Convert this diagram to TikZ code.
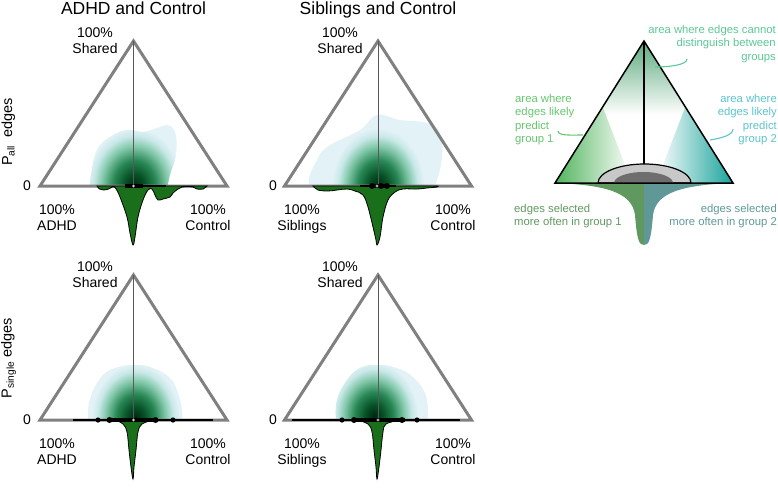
\documentclass[tikz,border=0pt]{standalone}
\usepackage{fontspec}
\setmainfont{Liberation Sans}
\usepackage{tikz}
\usetikzlibrary{calc}

%colours
\definecolor{ternGray}{RGB}{128,128,128}
\definecolor{vioGreen}{RGB}{26,112,26}
\definecolor{blobCyan}{RGB}{227,242,246}
\definecolor{kdeA}{RGB}{0,38,14}
\definecolor{kdeB}{RGB}{6,80,38}
\definecolor{kdeC}{RGB}{40,135,85}
\definecolor{kdeD}{RGB}{130,200,170}
\definecolor{kdeE}{RGB}{200,232,232}
\definecolor{legTop}{RGB}{92,170,125}
\definecolor{legOne}{RGB}{80,180,92}
\definecolor{legTwo}{RGB}{24,163,154}
\definecolor{vioOne}{RGB}{96,153,96}
\definecolor{vioTwo}{RGB}{96,152,152}
\definecolor{noteMid}{RGB}{92,200,150}
\definecolor{noteOne}{RGB}{100,198,110}
\definecolor{noteTwo}{RGB}{92,196,206}
\definecolor{grayOut}{RGB}{200,200,200}
\definecolor{grayIn}{RGB}{110,110,110}

\pgfdeclareradialshading{kde}{\pgfpoint{0bp}{0bp}}{color(0bp)=(kdeA); color(5bp)=(kdeB); color(11bp)=(kdeC); color(17bp)=(kdeD); color(21.5bp)=(kdeE); color(25bp)=(blobCyan); color(50bp)=(blobCyan)}

\tikzset{
	tern/.style={draw=ternGray, line width=3pt},
	midline/.style={draw=black!65, line width=1pt},
	violin/.style={fill=vioGreen, draw=black, line width=0.8pt},
	whisker/.style={draw=black, line width=1.6pt},
	boxbar/.style={draw=black, line width=4.5pt},
	knob/.style={fill=black},
	median/.style={fill=white, draw=black!60, line width=0.4pt},
	title/.style={font=\fontsize{17.5}{20}\selectfont, inner sep=0pt},
	lbl/.style={font=\fontsize{14}{16}\selectfont, align=center, inner sep=0pt},
	rowlbl/.style={font=\fontsize{14.5}{16}\selectfont, rotate=90, inner sep=0pt},
	note/.style={font=\fontsize{11.3}{13.4}\selectfont, inner sep=0pt},
	hook/.style={line width=1.1pt}
}

%ternary frame of one panel
\newcommand{\ternframe}{%
	\draw[tern] (-93.5,0) -- (0,-145) -- (93.5,0) -- cycle;
	\draw[midline] (0,-145) -- (0,0);}

\begin{document}
\begin{tikzpicture}[x=1pt, y=-1pt]
	\useasboundingbox (0,0) rectangle (778,496);
	
	%titles
	\node[title, anchor=base] (titleA) at (133.5,14) {ADHD and Control};
	\node[title, anchor=base] (titleB) at (378,14) {Siblings and Control};
	
	%row labels
	\node[rowlbl] (rowAll) at (8.5,132) {P\textsubscript{all}\ \ edges};
	\node[rowlbl] (rowSingle) at (8.5,358) {P\textsubscript{single} edges};
	
	%top left panel
	\begin{scope}[shift={(133.5,186)}]
		\begin{scope}
			\clip plot[smooth, tension=0.7] coordinates {(-43.5,0) (-43,-8) (-36.5,-36) (-23.5,-49) (-6.5,-56) (9.5,-54) (23.5,-58) (33.5,-61) (40,-57) (43,-46) (42,-29) (37,-13) (34,0)} -- cycle;
			\fill[blobCyan] (-100,-100) rectangle (100,0);
			\shade[shading=kde] (1,0) ellipse [x radius=48, y radius=58];
		\end{scope}
		\ternframe
		\filldraw[violin] plot[smooth, tension=0.6] coordinates {(-36.5,0) (-34,3) (-30,4) (-25,3) (-21,1) (-18,2) (-13.5,11) (-6.5,31) (-3.5,47) (-0.5,59) (1.5,51) (4.5,31) (9.5,14) (14.5,4) (18.5,3) (21.5,9) (24.5,14) (29.5,13) (36.5,11) (39.5,7) (44.5,3) (48.5,1) (59.5,1) (63.5,3) (69.5,3) (73.5,0)} -- cycle;
		\draw[whisker] (-8,0) -- (32,0);
		\draw[boxbar] (-8.5,0) -- (9.5,0);
		\filldraw[median] (0,0) circle [radius=1.3];
	\end{scope}
	
	%top middle panel
	\begin{scope}[shift={(378,186)}]
		\begin{scope}
			\clip plot[smooth, tension=0.7] coordinates {(-68,0) (-69,-8) (-62,-24) (-51,-39) (-18,-56) (-1,-71) (22,-66) (49,-63) (62,-53) (64,-29) (59,-6) (55,0)} -- cycle;
			\fill[blobCyan] (-100,-100) rectangle (100,0);
			\shade[shading=kde] (0,0) ellipse [x radius=46, y radius=58];
		\end{scope}
		\ternframe
		\filldraw[violin] plot[smooth, tension=0.6] coordinates {(-65,0) (-60,4) (-50,5) (-41,4) (-31,3) (-23,5) (-15,9) (-10,21) (-5,41) (-2,54) (-1,59) (2,51) (5,31) (10,14) (17,6) (25,3) (39,3) (49,2) (59,1) (60,0)} -- cycle;
		\draw[whisker] (-18,0) -- (18,0);
		\draw[boxbar] (-8,0) -- (11,0);
		\fill[knob] (-6,0) circle [radius=3] (3,0) circle [radius=3] (9,0) circle [radius=3];
		\filldraw[median] (-1,0) circle [radius=1.3];
	\end{scope}
	
	%bottom left panel
	\begin{scope}[shift={(133.5,420)}]
		\begin{scope}
			\clip plot[smooth, tension=0.7] coordinates {(-45.5,0) (-44.5,-17) (-36.5,-37) (-23.5,-50) (-0.5,-55) (19.5,-52) (36.5,-42) (44.5,-27) (48.5,-10) (48.5,0)} -- cycle;
			\fill[blobCyan] (-100,-100) rectangle (100,0);
			\shade[shading=kde] (2,-2) ellipse [x radius=44, y radius=54];
		\end{scope}
		\ternframe
		\filldraw[violin] plot[smooth, tension=0.6] coordinates {(-18.5,0) (-10.5,4) (-6.5,12) (-4.5,30) (-2.5,47) (-0.5,59) (0.5,47) (2.5,30) (4.5,12) (8.5,4) (19.5,0)} -- cycle;
		\draw[whisker] (-60.5,0) -- (79.5,0);
		\fill[knob] (-35.5,0) circle [radius=2.6] (39.5,0) circle [radius=2.6];
		\draw[boxbar] (-26.5,0) -- (23.5,0);
		\fill[knob] (-24,0) circle [radius=3] (22,0) circle [radius=3];
		\filldraw[median] (0,0) circle [radius=1.3];
	\end{scope}
	
	%bottom middle panel
	\begin{scope}[shift={(378,420)}]
		\begin{scope}
			\clip plot[smooth, tension=0.7] coordinates {(-42,0) (-41,-20) (-31,-40) (-18,-52) (-1,-55) (19,-52) (35,-43) (47,-27) (50,-10) (50,0)} -- cycle;
			\fill[blobCyan] (-100,-100) rectangle (100,0);
			\shade[shading=kde] (-4,-4) ellipse [x radius=44, y radius=54];
		\end{scope}
		\ternframe
		\filldraw[violin] plot[smooth, tension=0.6] coordinates {(-21,0) (-10,4) (-6,12) (-4,30) (-2,47) (-1,59) (1,47) (3,30) (5,12) (8,4) (22,0)} -- cycle;
		\draw[whisker] (-86,0) -- (82,0);
		\fill[knob] (-36,0) circle [radius=2.6] (39,0) circle [radius=2.6];
		\draw[boxbar] (-26,0) -- (27,0);
		\fill[knob] (-24,0) circle [radius=3] (24,0) circle [radius=3];
		\filldraw[median] (0,0) circle [radius=1.3];
	\end{scope}
	
	%corner labels, top row
	\node[lbl] (shA) at (95,41) {100\%\\Shared};
	\node[lbl] (adhdA) at (57,218) {100\%\\ADHD};
	\node[lbl] (ctrlA) at (208,218) {100\%\\Control};
	\node[lbl] (zeroA) at (27,186) {0};
	\node[lbl] (shB) at (340,41) {100\%\\Shared};
	\node[lbl] (sibB) at (302,219.5) {100\%\\Siblings};
	\node[lbl] (ctrlB) at (453,218) {100\%\\Control};
	\node[lbl] (zeroB) at (273,186) {0};
	
	%corner labels, bottom row
	\node[lbl] (shC) at (95,275) {100\%\\Shared};
	\node[lbl] (adhdC) at (57,452) {100\%\\ADHD};
	\node[lbl] (ctrlC) at (208,452) {100\%\\Control};
	\node[lbl] (zeroC) at (27,420) {0};
	\node[lbl] (shD) at (340,275) {100\%\\Shared};
	\node[lbl] (sibD) at (302,453.5) {100\%\\Siblings};
	\node[lbl] (ctrlD) at (453,452) {100\%\\Control};
	\node[lbl] (zeroD) at (273,420) {0};
	
	%legend triangle
	\coordinate (lgT) at (644,41);
	\coordinate (lgL) at (555,183);
	\coordinate (lgR) at (733,183);
	\coordinate (lgB) at (644,245);
	
	\begin{scope}
		\clip (lgL) -- (lgT) -- (lgR) -- cycle;
		\shade[top color=legTop, bottom color=white] (555,41) rectangle (733,115);
		\shade[left color=legOne, right color=white] (555,183) -- (555,100) -- (600,100) -- (632,183) -- cycle;
		\shade[left color=white, right color=legTwo] (733,183) -- (733,100) -- (688,100) -- (656,183) -- cycle;
	\end{scope}
	
	%legend violin
	\fill[vioOne] (lgL) .. controls (605,185) and (632,192) .. (635,215) .. controls (637,240) and (639,245) .. (lgB) -- (644,183) -- cycle;
	\fill[vioTwo] (lgR) .. controls (683,185) and (656,192) .. (653,215) .. controls (651,240) and (649,245) .. (lgB) -- (644,183) -- cycle;
	
	%legend box
	\filldraw[fill=grayOut, draw=black, line width=1.2pt] (598,183) arc [start angle=180, end angle=360, x radius=46.5, y radius=19] -- cycle;
	\fill[grayIn] (614,183) arc [start angle=180, end angle=360, x radius=29.5, y radius=11];
	
	\draw[line width=1.5pt, line join=miter] (lgL) -- (lgT) -- (lgR) -- cycle;
	\draw[line width=1.2pt] (lgT) -- (644,164);
	
	%legend notes
	\node[note, text=noteMid, align=right, anchor=north east] (nMid) at (776,25) {area where edges cannot\\distinguish between\\groups};
	\node[note, text=noteOne, align=left, anchor=north west] (nOne) at (515,94) {area where\\edges likely\\predict\\group 1};
	\node[note, text=noteTwo, align=right, anchor=north east] (nTwo) at (777,94) {area where\\edges likely\\predict\\group 2};
	\node[note, text=vioOne, align=left, anchor=north west] (sOne) at (514,204) {edges selected\\more often in group 1};
	\node[note, text=vioTwo, align=right, anchor=north east] (sTwo) at (777,204) {edges selected\\more often in group 2};
	
	%hooks
	\coordinate (hMidA) at (687,59);
	\coordinate (hMidB) at (655,67);
	\coordinate (hOneA) at (558,131);
	\coordinate (hOneB) at (583,135);
	\coordinate (hTwoA) at (733,129);
	\coordinate (hTwoB) at (710,140);
	\draw[hook, noteMid] (hMidA) .. controls +(0,6) and +(14,0) .. (hMidB);
	\draw[hook, noteOne] (hOneA) .. controls +(0,5) and +(-12,0) .. (hOneB);
	\draw[hook, noteTwo] (hTwoA) .. controls +(0,6) and +(12,-2) .. (hTwoB);
\end{tikzpicture}
\end{document}
